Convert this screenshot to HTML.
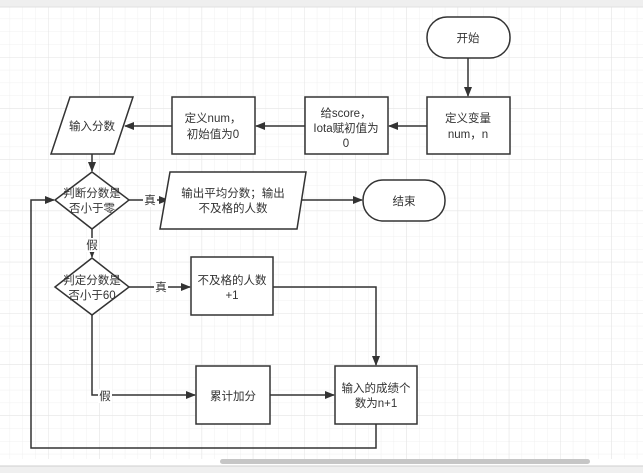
<!DOCTYPE html>
<html><head><meta charset="utf-8"><style>
html,body{margin:0;padding:0;background:#fff;width:643px;height:473px;overflow:hidden}
svg text{font-family:"Liberation Sans","Noto Sans CJK SC",sans-serif;font-size:11.5px;fill:#333;text-anchor:middle}
</style></head><body>
<svg width="643" height="473" viewBox="0 0 643 473" xmlns="http://www.w3.org/2000/svg">
<defs>
<pattern id="minor" x="-3.2" y="5.8" width="12.8" height="12.8" patternUnits="userSpaceOnUse">
<path d="M0 0H12.8M0 0V12.8" stroke="#f0f0f0" stroke-width="1" fill="none"/>
</pattern>
<pattern id="major" x="-3.2" y="5.8" width="51.2" height="51.2" patternUnits="userSpaceOnUse">
<path d="M0 0H51.2M0 0V51.2" stroke="#e3e3e3" stroke-width="1" fill="none"/>
</pattern>
<marker id="ar" markerWidth="10" markerHeight="8" refX="9" refY="4" orient="auto" markerUnits="userSpaceOnUse">
<path d="M0 0L10 4L0 8Z" fill="#333"/>
</marker>
</defs>
<rect x="0" y="7" width="643" height="452" fill="url(#minor)"/>
<rect x="0" y="7" width="643" height="452" fill="url(#major)"/>
<rect x="0" y="0" width="643" height="7" fill="#efefef"/>
<line x1="0" y1="7" x2="643" y2="7" stroke="#e0e0e0"/>
<rect x="0" y="466" width="643" height="7" fill="#efefef"/>
<line x1="0" y1="466" x2="643" y2="466" stroke="#cfcfcf"/>
<rect x="220" y="459" width="370" height="5" rx="2.5" fill="#c6c6c6"/>
<g fill="none" stroke="#333" stroke-width="1.5">
<!-- connectors -->
<line x1="468" y1="58" x2="468" y2="96" marker-end="url(#ar)"/>
<line x1="427" y1="126" x2="389" y2="126" marker-end="url(#ar)"/>
<line x1="305" y1="126" x2="256" y2="126" marker-end="url(#ar)"/>
<line x1="172" y1="126" x2="125" y2="126" marker-end="url(#ar)"/>
<line x1="92" y1="154" x2="92" y2="171" marker-end="url(#ar)"/>
<line x1="129" y1="200" x2="168" y2="200" marker-end="url(#ar)"/>
<line x1="297" y1="200" x2="362" y2="200" marker-end="url(#ar)"/>
<line x1="92" y1="229" x2="92" y2="257" marker-end="url(#ar)"/>
<line x1="129" y1="287" x2="190" y2="287" marker-end="url(#ar)"/>
<polyline points="273,287 376,287 376,365" marker-end="url(#ar)"/>
<polyline points="92,315 92,395 195,395" marker-end="url(#ar)"/>
<line x1="270" y1="395" x2="334" y2="395" marker-end="url(#ar)"/>
<polyline points="376,424 376,448 31,448 31,200 54,200" marker-end="url(#ar)"/>
<!-- shapes -->
<rect x="427" y="17" width="83" height="41" rx="20" fill="#fff"/>
<rect x="427" y="97" width="83" height="57" fill="#fff"/>
<rect x="305" y="97" width="83" height="57" fill="#fff"/>
<rect x="172" y="97" width="83" height="57" fill="#fff"/>
<polygon points="70,97 133,97 114,154 51,154" fill="#fff"/>
<polygon points="92,172 129,200 92,229 55,200" fill="#fff"/>
<polygon points="170,172 306,172 297,229 160,229" fill="#fff"/>
<rect x="363" y="180" width="82" height="41" rx="20" fill="#fff"/>
<polygon points="92,258 129,287 92,315 55,287" fill="#fff"/>
<rect x="191" y="257" width="82" height="58" fill="#fff"/>
<rect x="196" y="366" width="74" height="58" fill="#fff"/>
<rect x="335" y="366" width="82" height="58" fill="#fff"/>
</g>
<!-- edge label backgrounds -->
<rect x="143" y="193" width="14" height="14" fill="#fff"/>
<rect x="85" y="238" width="14" height="14" fill="#fff"/>
<rect x="154" y="280" width="14" height="14" fill="#fff"/>
<rect x="98" y="389" width="14" height="14" fill="#fff"/>
<text x="468" y="42">开始</text>
<text x="468" y="122">定义变量</text>
<text x="468" y="138">num，n</text>
<text x="346" y="117">给score，</text>
<text x="346" y="132">Iota赋初值为</text>
<text x="346" y="147">0</text>
<text x="213" y="122">定义num，</text>
<text x="213" y="138">初始值为0</text>
<text x="92" y="130">输入分数</text>
<text x="92" y="197">判断分数是</text>
<text x="92" y="212">否小于零</text>
<text x="150" y="204">真</text>
<text x="233" y="197">输出平均分数；输出</text>
<text x="233" y="212">不及格的人数</text>
<text x="404" y="205">结束</text>
<text x="92" y="249">假</text>
<text x="92" y="284">判定分数是</text>
<text x="92" y="299">否小于60</text>
<text x="161" y="291">真</text>
<text x="232" y="284">不及格的人数</text>
<text x="232" y="299">+1</text>
<text x="105" y="400">假</text>
<text x="233" y="400">累计加分</text>
<text x="376" y="392">输入的成绩个</text>
<text x="376" y="407">数为n+1</text>
</svg>
</body></html>
